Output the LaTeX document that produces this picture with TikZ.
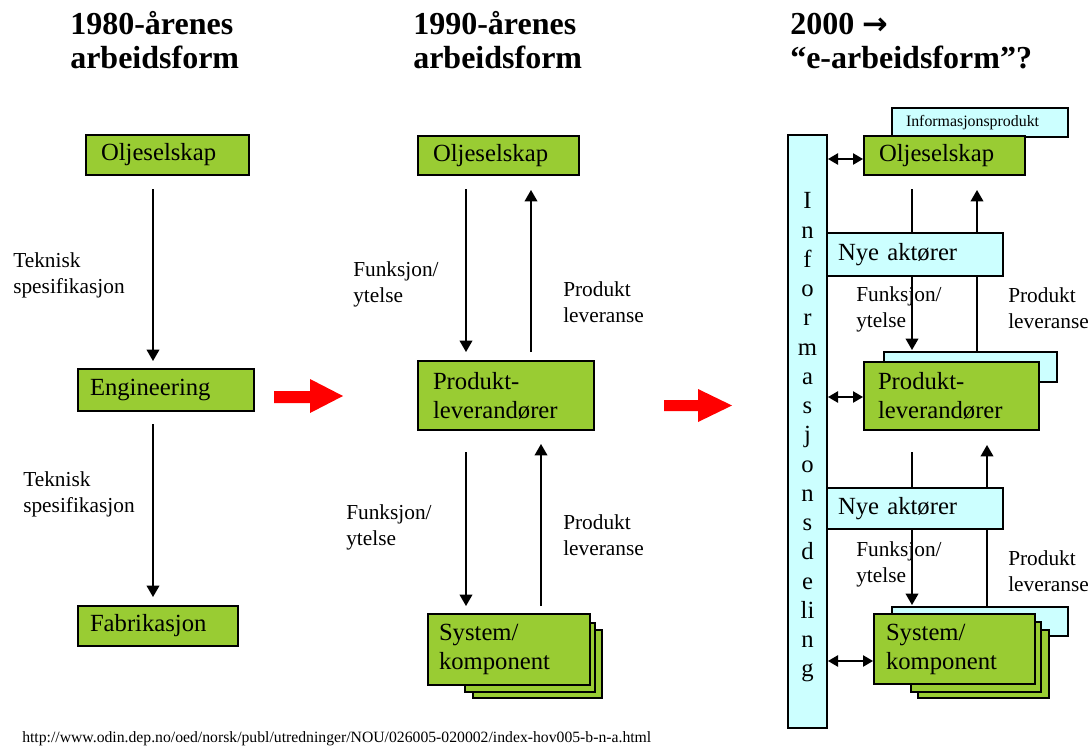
\documentclass[tikz,border=0pt]{standalone}
\usepackage{fontspec}
\usepackage{graphicx}
\setmainfont{Liberation Serif}
\newfontfamily\arrowfont{DejaVu Sans}
\usetikzlibrary{arrows.meta}

\definecolor{boxgreen}{HTML}{99CC33}
\definecolor{infocyan}{HTML}{CCFFFF}
\definecolor{bigred}{HTML}{FF0000}

\newcommand\flowboxfont{\fontsize{18.5}{21.75}\selectfont}
\newcommand\flowlabelfont{\fontsize{16}{19.5}\selectfont}
\newcommand\flowheadfont{\fontsize{24}{25.5}\selectfont\bfseries}
\newcommand\flowbarfont{\fontsize{18.5}{21.94}\selectfont}

\tikzset{
  % size/padding of a box given in drawing units: width/height/left padding
  pxbox/.code args={#1/#2/#3}{%
    \pgfmathsetmacro\pxboxW{#1*0.75}%
    \pgfmathsetmacro\pxboxH{#2*0.75}%
    \pgfmathsetmacro\pxboxP{#3*0.75}%
    \pgfmathsetmacro\pxboxT{(#1-2*#3)*0.75}%
    \edef\pxboxKeys{minimum width=\pxboxW pt, minimum height=\pxboxH pt,
      inner xsep=\pxboxP pt, text width=\pxboxT pt}%
    \expandafter\pgfkeysalso\expandafter{\pxboxKeys}},
  box/.style={draw=black, line width=1.5pt, anchor=north west, inner ysep=0pt,
    align=left, font=\flowboxfont},
  greenbox/.style={box, fill=boxgreen},
  cyanbox/.style={box, fill=infocyan},
  conn/.style={line width=1.1pt, -{Triangle[width=9.5pt,length=8.5pt]}},
  biconn/.style={line width=1.1pt,
    {Triangle[width=8.5pt,length=7.5pt]}-{Triangle[width=8.5pt,length=7.5pt]}},
  % multi-line texts are placed by the baseline of their last line
  flowlabel/.style={anchor=base west, align=left, inner sep=0pt, font=\flowlabelfont},
  heading/.style={anchor=base west, align=left, inner sep=0pt, font=\flowheadfont},
}

\begin{document}
\begin{tikzpicture}[x=0.75pt, y=-0.75pt]
\useasboundingbox (0,0) rectangle (1091,746);
\fill[white] (0,0) rectangle (1091,746);

% ---------- headings ----------
\node[heading] (t1) at (70,68) {1980-årenes\\arbeidsform};
\node[heading] (t2) at (413,68) {1990-årenes\\arbeidsform};
\node[heading] (t3) at (790,68) {2000 {\arrowfont\fontsize{23}{25.5}\selectfont →}\\“e-arbeidsform”?};

% ---------- column 1: 1980s ----------
\node[greenbox, pxbox=163/40/15] (oilA) at (85,134) {Oljeselskap};
\node[greenbox, pxbox=176/42/12] (eng) at (77,368) {Engineering};
\node[greenbox, pxbox=160/40/12] (fab) at (77,605) {Fabrikasjon};

\coordinate (xa) at (153,0);
\draw[conn, shorten <=9.75pt, shorten >=5.25pt] (oilA.south -| xa) -- (eng.north -| xa);
\draw[conn, shorten <=9pt, shorten >=6pt] (eng.south -| xa) -- (fab.north -| xa);

\node[flowlabel] (l1) at (13,293) {Teknisk\\spesifikasjon};
\node[flowlabel] (l2) at (23,512) {Teknisk\\spesifikasjon};

% ---------- column 2: 1990s ----------
\node[greenbox, pxbox=161/39/15] (oilB) at (417,135) {Oljeselskap};
\node[greenbox, pxbox=176/69/15] (prodB) at (417,360) {Produkt-\\leverandører};
\node[greenbox, pxbox=129/68/0] (sysB3) at (472,629) {};
\node[greenbox, pxbox=130/69/0] (sysB2) at (464,622) {};
\node[greenbox, pxbox=162/71/11] (sysB) at (427,613) {System/\\komponent};

\coordinate (xb1) at (466,0);
\coordinate (xb2) at (531,0);
\coordinate (xb3) at (541,0);
\draw[conn, shorten <=9.75pt, shorten >=6pt] (oilB.south -| xb1) -- (prodB.north -| xb1);
\draw[conn, shorten <=6pt, shorten >=10.5pt] (prodB.north -| xb2) -- (oilB.south -| xb2);
\draw[conn, shorten <=15.75pt, shorten >=5.25pt] (prodB.south -| xb1) -- (sysB.north -| xb1);
\draw[conn, shorten <=5.25pt, shorten >=9.75pt] (sysB.north -| xb3) -- (prodB.south -| xb3);

\node[flowlabel] (l3) at (353,302) {Funksjon/\\ytelse};
\node[flowlabel] (l4) at (563,322) {Produkt\\leveranse};
\node[flowlabel] (l5) at (346,545) {Funksjon/\\ytelse};
\node[flowlabel] (l6) at (563,555) {Produkt\\leveranse};

% ---------- transition arrows ----------
\fill[bigred] (274,391) -- (310,391) -- (310,379) -- (343,396) -- (310,413)
  -- (310,403) -- (274,403) -- cycle;
\fill[bigred] (664,400) -- (698,400) -- (698,389) -- (732,405.5) -- (698,422)
  -- (698,411) -- (664,411) -- cycle;

% ---------- column 3: 2000 ----------
\node[cyanbox, pxbox=176/29/14, font=\fontsize{11.9}{14}\selectfont] (info) at (891,107) {Informasjonsprodukt};
\node[greenbox, pxbox=161/39/15] (oilC) at (863,135) {Oljeselskap};

\node[cyanbox, pxbox=173/30/0] (prodBack) at (883,351) {};
\node[greenbox, pxbox=175/68/14] (prodC) at (863,361) {Produkt-\\leverandører};

\node[cyanbox, pxbox=176/29/0] (sysBack) at (891,606) {};
\node[greenbox, pxbox=131/68/0] (sysC3) at (917,629) {};
\node[greenbox, pxbox=130/70/0] (sysC2) at (910,621) {};
\node[greenbox, pxbox=161/70/12] (sysC) at (873,613) {System/\\komponent};

\node[cyanbox, pxbox=39/593/0, align=center, font=\flowbarfont] (bar) at (787,134)
  {\rule{0pt}{21pt}I\\n\\f\\o\\r\\m\\a\\s\\j\\o\\n\\s\\d\\e\\li\\n\\g};

\coordinate (xc1) at (912,0);
\coordinate (xc2) at (977,0);
\coordinate (xc3) at (987,0);
\draw[conn, shorten <=9.75pt, shorten >=0.75pt] (oilC.south -| xc1) -- (prodBack.north -| xc1);
\draw[conn, shorten >=10.5pt] (prodBack.north -| xc2) -- (oilC.south -| xc2);
\draw[conn, shorten <=15.75pt, shorten >=0.75pt] (prodC.south -| xc1) -- (sysBack.north -| xc1);
\draw[conn, shorten >=10.5pt] (sysBack.north -| xc3) -- (prodC.south -| xc3);

% new actors sit on top of the flow lines
\node[cyanbox, pxbox=176/43/11] (nye1) at (826,232) {Nye aktører};
\node[cyanbox, pxbox=176/41/11] (nye2) at (826,487) {Nye aktører};

% information sharing links
\coordinate (ya) at (0,159);
\coordinate (yb) at (0,397);
\coordinate (yc) at (0,661);
\draw[biconn] (bar.east |- ya) -- (oilC.west |- ya);
\draw[biconn] (bar.east |- yb) -- (prodC.west |- yb);
\draw[biconn] (bar.east |- yc) -- (sysC.west |- yc);

\node[flowlabel] (l7) at (856,327) {Funksjon/\\ytelse};
\node[flowlabel] (l8) at (1008,328) {Produkt\\leveranse};
\node[flowlabel] (l9) at (856,582) {Funksjon/\\ytelse};
\node[flowlabel] (l10) at (1008,591) {Produkt\\leveranse};

% ---------- source ----------
\node[anchor=base west, inner sep=0pt] (src) at (22,742)
  {\resizebox{471.75pt}{!}{http://www.odin.dep.no/oed/norsk/publ/utredninger/NOU/026005-020002/index-hov005-b-n-a.html}};
\end{tikzpicture}
\end{document}
